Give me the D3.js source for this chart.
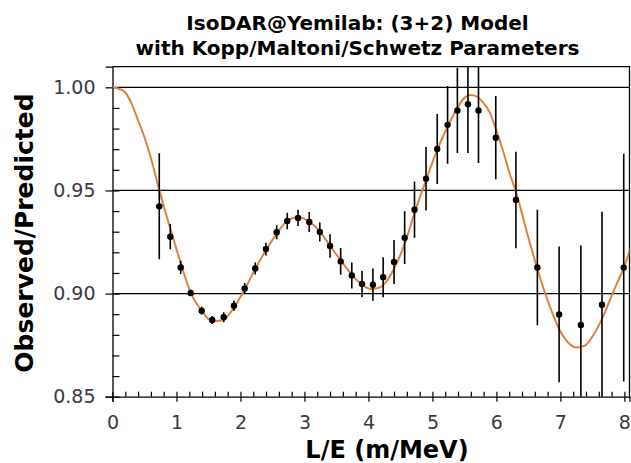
<!DOCTYPE html>
<html>
<head>
<meta charset="utf-8">
<script src="https://cdn.jsdelivr.net/npm/d3@7"></script>
<style>
  html, body { margin: 0; padding: 0; background: #fff; }
  svg { display: block; }
</style>
</head>
<body>
<svg id="chart" width="631" height="463"></svg>
<script>
// ---- text ----
const titleLines = ["IsoDAR@Yemilab: (3+2) Model", "with Kopp/Maltoni/Schwetz Parameters"];
const xLabel = "L/E (m/MeV)";
const yLabel = "Observed/Predicted";

// ---- ticks ----
const xTicks = [0, 1, 2, 3, 4, 5, 6, 7, 8];
const yTicks = [0.85, 0.90, 0.95, 1.00];
const gridValues = [0.90, 0.95, 1.00];

// ---- (3+2) oscillation prediction ----
const modelLE = [0.0, 0.1, 0.2, 0.3, 0.4, 0.5, 0.6, 0.7, 0.8, 0.9, 1.0, 1.07, 1.22, 1.39, 1.57, 1.73,
  1.90, 2.07, 2.23, 2.40, 2.57, 2.73, 2.90, 3.07, 3.24, 3.40, 3.57, 3.74, 3.90, 4.05, 4.18, 4.28,
  4.40, 4.57, 4.72, 4.90, 5.07, 5.24, 5.39, 5.48, 5.59, 5.69, 5.79, 5.90, 6.00, 6.11, 6.21, 6.30,
  6.47, 6.64, 6.84, 6.98, 7.12, 7.25, 7.38, 7.51, 7.65, 7.77, 7.88, 7.99, 8.10];
const modelRatio = [1.0000, 0.9993, 0.9975, 0.9920, 0.9840, 0.9757, 0.9657, 0.9540, 0.9425, 0.9320,
  0.9215, 0.9144, 0.9006, 0.8917, 0.8866, 0.8872, 0.8933, 0.9022, 0.9119, 0.9211, 0.9292, 0.9352,
  0.9370, 0.9350, 0.9302, 0.9232, 0.9160, 0.9092, 0.9043, 0.9022, 0.9030, 0.9058, 0.9120, 0.9245,
  0.9390, 0.9550, 0.9693, 0.9811, 0.9900, 0.9942, 0.9963, 0.9956, 0.9927, 0.9876, 0.9790, 0.9685,
  0.9580, 0.9500, 0.9305, 0.9119, 0.8933, 0.8828, 0.8763, 0.8739, 0.8747, 0.8796, 0.8877, 0.8966,
  0.9047, 0.9124, 0.9224];

// ---- simulated measurement per L/E bin ----
const binLE = [0.731, 0.903, 1.066, 1.222, 1.394, 1.559, 1.738, 1.898, 2.066, 2.231, 2.398, 2.566,
  2.731, 2.900, 3.075, 3.240, 3.400, 3.566, 3.740, 3.900, 4.070, 4.230, 4.400, 4.566, 4.720, 4.900,
  5.075, 5.237, 5.390, 5.555, 5.720, 5.990, 6.305, 6.640, 6.980, 7.320, 7.650, 7.990];
const binRatio = [0.9423, 0.9276, 0.9127, 0.9003, 0.8917, 0.8872, 0.8885, 0.8941, 0.9025, 0.9122,
  0.9216, 0.9297, 0.9352, 0.9367, 0.9347, 0.9299, 0.9231, 0.9156, 0.9088, 0.9047, 0.9043, 0.9079,
  0.9153, 0.9271, 0.9407, 0.9557, 0.9701, 0.9818, 0.9888, 0.9918, 0.9888, 0.9756, 0.9454, 0.9127,
  0.8899, 0.8848, 0.8946, 0.9126];
const binError = [0.0257, 0.0061, 0.0032, 0.0015, 0.0019, 0.0019, 0.0024, 0.0024, 0.0026, 0.0029,
  0.0031, 0.0034, 0.0040, 0.0039, 0.0048, 0.0046, 0.0057, 0.0065, 0.0063, 0.0063, 0.0078, 0.0097,
  0.0107, 0.0128, 0.0136, 0.0154, 0.0170, 0.0189, 0.0207, 0.0236, 0.0255, 0.0202, 0.0234, 0.0280,
  0.0329, 0.0385, 0.0451, 0.0552];

// ---- layout ----
const plot = { left: 112.5, right: 629.5, top: 66.7, bottom: 396.7 };
const FONT = "'DejaVu Sans', Verdana, sans-serif";

const svg = d3.select("#chart");

const x = d3.scaleLinear().domain([0, 8.08]).range([plot.left, plot.right]);
const y = d3.scaleLinear().domain([0.85, 1.01]).range([plot.bottom, plot.top]);

svg.append("defs").append("clipPath").attr("id", "plotClip")
  .append("rect")
  .attr("x", plot.left).attr("y", plot.top)
  .attr("width", plot.right - plot.left).attr("height", plot.bottom - plot.top);

// horizontal reference lines
svg.append("g").selectAll("line").data(gridValues).join("line")
  .attr("x1", plot.left).attr("x2", plot.right)
  .attr("y1", d => y(d)).attr("y2", d => y(d))
  .attr("stroke", "#000").attr("stroke-width", 1.3);

// frame: top and right edges
svg.append("path")
  .attr("d", `M${plot.left},${plot.top}H${plot.right}V${plot.bottom}`)
  .attr("fill", "none").attr("stroke", "#000").attr("stroke-width", 1.3);

// minor tick positions
const xMinor = d3.range(0, 8.001, 0.2).map(v => +v.toFixed(2));
const yMinor = d3.range(0.85, 1.0051, 0.01).map(v => +v.toFixed(3));

// x axis: labelled outward ticks plus inward ticks at every 0.2
const xAxisG = svg.append("g").attr("transform", `translate(0,${plot.bottom})`);
xAxisG.call(d3.axisBottom(x).tickValues(xTicks).tickSize(5).tickPadding(14).tickFormat(d3.format("d")));
xAxisG.append("g").call(d3.axisBottom(x).tickValues(xMinor).tickSize(-5).tickFormat(""))
  .select(".domain").remove();

// y axis: labelled outward ticks plus inward ticks at every 0.01
const yAxisG = svg.append("g").attr("transform", `translate(${plot.left},0)`);
yAxisG.call(d3.axisLeft(y).tickValues(yTicks).tickSize(7).tickPadding(10).tickFormat(d3.format(".2f")));
yAxisG.append("g").call(d3.axisLeft(y).tickValues(yMinor).tickSize(-7).tickFormat(""))
  .select(".domain").remove();

svg.selectAll(".domain").attr("stroke", "#000").attr("stroke-width", 1.3);
svg.selectAll(".tick line").attr("stroke", "#000").attr("stroke-width", 1.2);
svg.selectAll(".tick text")
  .attr("font-family", FONT).attr("font-size", 19).attr("fill", "#3a3a40");

// model curve
const line = d3.line().x(d => x(d[0])).y(d => y(d[1])).curve(d3.curveMonotoneX);
svg.append("path")
  .datum(d3.zip(modelLE, modelRatio))
  .attr("clip-path", "url(#plotClip)")
  .attr("d", line)
  .attr("fill", "none").attr("stroke", "#e3803f").attr("stroke-width", 2);

// measurement error bars and points
const bins = binLE.map((le, i) => ({ le, r: binRatio[i], e: binError[i] }));
const pts = svg.append("g").attr("clip-path", "url(#plotClip)");
pts.selectAll("line").data(bins).join("line")
  .attr("x1", d => x(d.le)).attr("x2", d => x(d.le))
  .attr("y1", d => y(d.r - d.e)).attr("y2", d => y(d.r + d.e))
  .attr("stroke", "#000").attr("stroke-width", 1.6);
pts.selectAll("circle").data(bins).join("circle")
  .attr("cx", d => x(d.le)).attr("cy", d => y(d.r)).attr("r", 3.2)
  .attr("fill", "#000");

// title
svg.append("text")
  .attr("x", 357.5).attr("text-anchor", "middle")
  .attr("font-family", FONT).attr("font-weight", "bold").attr("font-size", 20).attr("fill", "#000")
  .selectAll("tspan").data(titleLines).join("tspan")
  .attr("x", 357.5).attr("y", (d, i) => 29.5 + i * 25)
  .text(d => d);

// axis titles
svg.append("text")
  .attr("x", 387).attr("y", 458).attr("text-anchor", "middle")
  .attr("font-family", FONT).attr("font-weight", "bold").attr("font-size", 24).attr("fill", "#000")
  .text(xLabel);

svg.append("text")
  .attr("transform", `translate(33,233) rotate(-90)`)
  .attr("text-anchor", "middle")
  .attr("font-family", FONT).attr("font-weight", "bold").attr("font-size", 25).attr("fill", "#000")
  .text(yLabel);
</script>
</body>
</html>
